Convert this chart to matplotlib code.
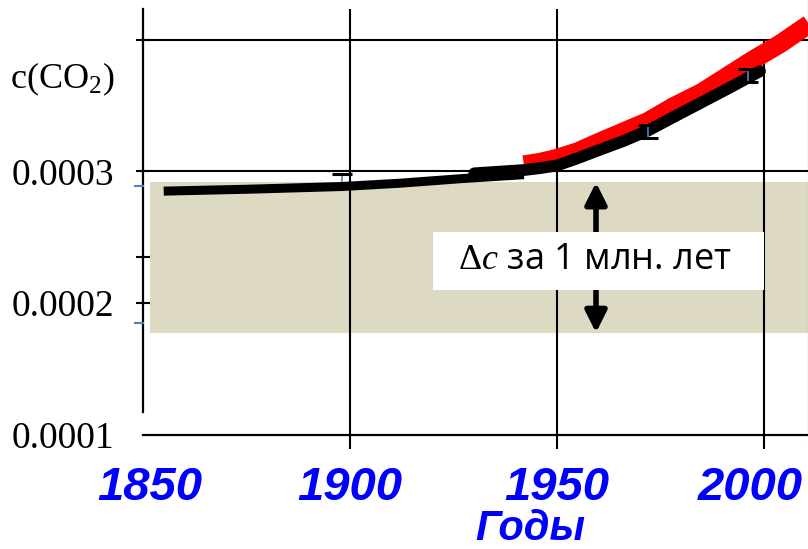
import matplotlib
matplotlib.use('Agg')
import matplotlib.pyplot as plt
from matplotlib.patches import Rectangle, FancyArrowPatch
from matplotlib.lines import Line2D
from matplotlib.transforms import ScaledTranslation

plt.rcParams['mathtext.fontset'] = 'custom'
plt.rcParams['mathtext.rm'] = 'Liberation Serif'
plt.rcParams['mathtext.it'] = 'Liberation Serif:italic'

# %%
# values
years_ice = [1855, 1876, 1898, 1912, 1927, 1942]
co2_ice = [2.85e-4, 2.865e-4, 2.885e-4, 2.91e-4, 2.945e-4, 2.975e-4]

years_meas = [1930, 1942, 1946, 1950, 1955, 1960, 1966, 1972, 1978, 1985, 1992, 1999]
co2_meas = [2.985e-4, 3.01e-4, 3.025e-4, 3.045e-4, 3.10e-4, 3.16e-4, 3.23e-4, 3.31e-4,
            3.41e-4, 3.525e-4, 3.64e-4, 3.76e-4]

years_trend = [1942, 1946, 1950, 1955, 1960, 1966, 1972, 1978, 1985, 1991, 1997, 2004, 2011]
co2_trend = [3.05e-4, 3.07e-4, 3.10e-4, 3.15e-4, 3.22e-4, 3.30e-4, 3.38e-4, 3.49e-4,
             3.60e-4, 3.72e-4, 3.84e-4, 3.97e-4, 4.12e-4]

err_ice_year = [1898]
err_ice_val = [2.91e-4]
err_ice_lo = [0.25e-5]
err_ice_hi = [0.7e-5]
err_years = [1972, 1996]
err_vals = [3.30e-4, 3.727e-4]
err_size = [0.5e-5, 0.5e-5]

band_top = 2.916e-4
band_bot = 1.776e-4
band_start = 1851.7
band_marks = [2.89e-4, 1.85e-4]
arrow_year = 1959.4

x_ticks = [1850, 1900, 1950, 2000]
x_labels = ['1850', '1900', '1950', '2000']
y_ticks = [1e-4, 2e-4, 3e-4]
y_labels = ['0.0001', '0.0002', '0.0003']
y_minor = [2.35e-4, 4e-4]

# %%
fig = plt.figure(figsize=(8.08, 5.49), dpi=100)
ax = fig.add_axes([143/808, 114/549, 665/808, 435/549])
ax.set_xlim(1850, 2010.6)
ax.set_ylim(1e-4, 4.3e-4)

ax.spines['top'].set_visible(False)
ax.spines['right'].set_visible(False)
ax.spines['left'].set_bounds(1.175e-4, 4.23e-4)
ax.spines['left'].set_linewidth(1.6)
ax.spines['bottom'].set_linewidth(1.6)

# grid
ax.hlines([3e-4, 4e-4], 1850, 2010.6, color='black', lw=1.5, zorder=2)
ax.vlines([1900, 1950], 1e-4, 4.23e-4, color='black', lw=1.5, zorder=2)
ax.vlines([2000], 1e-4, 4e-4, color='black', lw=1.5, zorder=2)

# shaded band
ax.fill_between([band_start, 2011], band_bot, band_top, color='#DDD9C3', lw=0, zorder=1)
for m in band_marks:
    ax.plot([1848.1, 1850], [m, m], color='#4F81BD', lw=1.5, clip_on=False, zorder=3)

# curves
ax.plot(years_trend, co2_trend, color='#FF0000', lw=13.5, solid_capstyle='butt',
        solid_joinstyle='round', zorder=3)
eb0 = ax.errorbar(err_ice_year, err_ice_val, yerr=[err_ice_lo, err_ice_hi], fmt='none',
                  ecolor='#4F81BD', elinewidth=1.2, capsize=7.5, capthick=2.2, zorder=3.5)
ax.plot(years_ice, co2_ice, color='black', lw=6.5, solid_capstyle='butt', zorder=4)
ax.plot(years_meas, co2_meas, color='black', lw=8.5, solid_capstyle='round',
        solid_joinstyle='round', zorder=4)

eb = ax.errorbar(err_years, err_vals, yerr=err_size, fmt='none', ecolor='#4F81BD',
                 elinewidth=1.2, capsize=7.5, capthick=2.2, zorder=6)
for c in list(eb[1]) + list(eb0[1]):
    c.set_markeredgecolor('black')

# arrow + label box
arr = FancyArrowPatch((arrow_year, band_top), (arrow_year, band_bot),
                      arrowstyle='<|-|>,head_length=1.3,head_width=0.65', mutation_scale=10,
                      lw=4, color='black', shrinkA=0, shrinkB=0, zorder=5)
ax.add_patch(arr)
ax.add_patch(Rectangle((0.436, 0.3333), 0.498, 0.1333, transform=ax.transAxes,
                       facecolor='white', edgecolor='none', zorder=7))
ax.text(0.679, 0.3816, r'$\Delta c$ за 1 млн. лет', transform=ax.transAxes,
        ha='center', va='baseline', fontsize=26, family='Open Sans', zorder=8)

# ticks
ax.set_xticks(x_ticks)
ax.set_xticklabels(x_labels)
ax.tick_params(axis='x', direction='out', length=10, width=1.5, pad=12,
               labelsize=34, labelcolor='#0000FF')
for t in ax.get_xticklabels():
    t.set_family('Liberation Sans')
    t.set_weight('bold')
    t.set_style('italic')
ax.xaxis.get_major_ticks()[0].tick1line.set_visible(False)
# labels sit a bit off the grid in the original slide
lbls = ax.get_xticklabels()
lbls[0].set_transform(lbls[0].get_transform() + ScaledTranslation(0.07, 0, fig.dpi_scale_trans))
lbls[-1].set_transform(lbls[-1].get_transform() + ScaledTranslation(-0.14, 0, fig.dpi_scale_trans))

ax.set_yticks(y_ticks)
ax.set_yticklabels(y_labels)
ax.set_yticks(y_minor, minor=True)
ax.tick_params(axis='y', which='both', direction='inout', length=10, width=1.5, pad=16,
               labelsize=27)
for t in ax.get_yticklabels():
    t.set_family('Liberation Serif')
ax.yaxis.get_major_ticks()[0].tick1line.set_visible(False)

ax.set_xlabel('Годы', fontsize=30, color='#0000FF', family='Liberation Sans',
              weight='bold', style='italic')
ax.xaxis.set_label_coords(0.582, -0.17)

fig.text(10/808, 1 - 88/549, r'c(CO$_\mathregular{2}$)', fontsize=26,
         family='Liberation Serif', va='baseline')

# thin slide border on the right
fig.add_artist(Line2D([807.5/808, 807.5/808], [1, 107/549], color='#4F81BD', lw=0.8))

plt.savefig('out.png', dpi=100)
